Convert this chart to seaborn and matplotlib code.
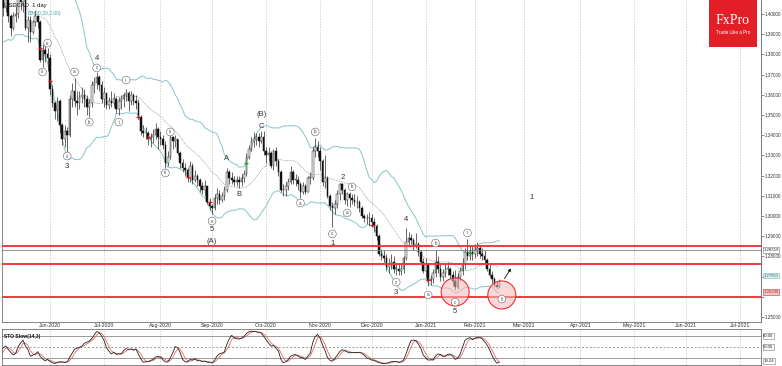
import numpy as np
import pandas as pd
import seaborn as sns
import matplotlib.pyplot as plt
from matplotlib.patches import Ellipse, Rectangle
from matplotlib.ticker import MultipleLocator

sns.set_theme(style="white")
plt.rcParams['font.family'] = ['Liberation Sans', 'DejaVu Sans']

# daily candles, one week per line (April only warms up the bands)
first_open = 1.4150
closes = [
    1.4110, 1.4000, 1.3990, 1.3940, 1.3960,
    1.3930, 1.3890, 1.4080, 1.4090, 1.4030,
    1.4150, 1.4180, 1.4130, 1.4100, 1.4120,
    1.4030, 1.3990, 1.3910, 1.3930, 1.4040,
    1.4100, 1.4030, 1.4090, 1.3990, 1.3930,
    1.3990, 1.4000, 1.4080, 1.4060, 1.4080,
    1.3930, 1.3970, 1.3910, 1.3960, 1.3990,
    1.3960, 1.3770, 1.3820, 1.3800, 1.3780,
    1.3630, 1.3560, 1.3520, 1.3570, 1.3450,
    1.3380, 1.3420, 1.3400, 1.3580, 1.3620,
    1.3570, 1.3560, 1.3590, 1.3600, 1.3580,
    1.3540, 1.3560, 1.3650, 1.3660, 1.3690,
    1.3650, 1.3580, 1.3610, 1.3550, 1.3570,
    1.3560, 1.3580, 1.3530, 1.3570, 1.3580,
    1.3600, 1.3610, 1.3570, 1.3600, 1.3570,
    1.3560, 1.3490, 1.3420, 1.3410, 1.3410,
    1.3380, 1.3390, 1.3400, 1.3430, 1.3390,
    1.3380, 1.3350, 1.3260, 1.3290, 1.3390,
    1.3370, 1.3380, 1.3310, 1.3260, 1.3240,
    1.3230, 1.3190, 1.3250, 1.3180, 1.3200,
    1.3180, 1.3150, 1.3130, 1.3150, 1.3070,
    1.3050, 1.3040, 1.3090, 1.3110, 1.3080,
    1.3100, 1.3130, 1.3220, 1.3190, 1.3180,
    1.3170, 1.3180, 1.3170, 1.3190, 1.3210,
    1.3290, 1.3330, 1.3370, 1.3380, 1.3390,
    1.3370, 1.3390, 1.3320, 1.3300, 1.3310,
    1.3250, 1.3320, 1.3270, 1.3220, 1.3130,
    1.3130, 1.3150, 1.3170, 1.3220, 1.3180,
    1.3180, 1.3160, 1.3120, 1.3150, 1.3120,
    1.3190, 1.3190, 1.3320, 1.3340, 1.3320,
    1.3270, 1.3170, 1.3190, 1.3100, 1.3050,
    1.3040, 1.3060, 1.3110, 1.3160, 1.3130,
    1.3080, 1.3110, 1.3090, 1.3080, 1.3070,
    1.3070, 1.3040, 1.3000, 1.2990, 1.2990,
    1.2990, 1.2970, 1.2950, 1.2900, 1.2810,
    1.2800, 1.2790, 1.2750, 1.2760, 1.2770,
    1.2740, 1.2740, 1.2730, 1.2740, 1.2790,
    1.2870, 1.2890, 1.2880, 1.2850,
    1.2860, 1.2820, 1.2770, 1.2730,
    1.2760, 1.2680, 1.2690, 1.2720, 1.2770,
    1.2740, 1.2700, 1.2720, 1.2740, 1.2740,
    1.2710, 1.2680, 1.2650, 1.2700, 1.2730,
    1.2760, 1.2820, 1.2800, 1.2820, 1.2810,
    1.2830, 1.2840, 1.2810, 1.2800, 1.2780,
    1.2740, 1.2710, 1.2690, 1.2660, 1.2650,
    1.2680,
]
highs = [
    1.4200, 1.4130, 1.4060, 1.4020, 1.3990,
    1.3990, 1.3950, 1.4100, 1.4150, 1.4110,
    1.4180, 1.4265, 1.4200, 1.4160, 1.4170,
    1.4130, 1.4060, 1.4000, 1.3980, 1.4070,
    1.4170, 1.4110, 1.4130, 1.4100, 1.4000,
    1.4010, 1.4040, 1.4110, 1.4150, 1.4120,
    1.4090, 1.3990, 1.3990, 1.3970, 1.4020,
    1.3990, 1.3970, 1.3850, 1.3840, 1.3830,
    1.3800, 1.3650, 1.3570, 1.3590, 1.3580,
    1.3460, 1.3450, 1.3440, 1.3600, 1.3660,
    1.3685, 1.3620, 1.3620, 1.3640, 1.3630,
    1.3600, 1.3580, 1.3670, 1.3690, 1.3715,
    1.3700, 1.3670, 1.3640, 1.3610, 1.3590,
    1.3620, 1.3610, 1.3590, 1.3590, 1.3600,
    1.3610, 1.3630, 1.3620, 1.3620, 1.3610,
    1.3600, 1.3580, 1.3500, 1.3450, 1.3440,
    1.3420, 1.3410, 1.3430, 1.3460, 1.3440,
    1.3420, 1.3400, 1.3370, 1.3320, 1.3400,
    1.3395, 1.3400, 1.3380, 1.3320, 1.3280,
    1.3260, 1.3240, 1.3270, 1.3260, 1.3230,
    1.3210, 1.3190, 1.3170, 1.3180, 1.3150,
    1.3090, 1.3060, 1.3110, 1.3140, 1.3130,
    1.3120, 1.3150, 1.3238, 1.3230, 1.3220,
    1.3200, 1.3200, 1.3200, 1.3210, 1.3230,
    1.3310, 1.3350, 1.3390, 1.3416, 1.3410,
    1.3410, 1.3420, 1.3420, 1.3340, 1.3340,
    1.3320, 1.3330, 1.3340, 1.3280, 1.3230,
    1.3160, 1.3170, 1.3190, 1.3250, 1.3230,
    1.3210, 1.3200, 1.3170, 1.3170, 1.3160,
    1.3200, 1.3220, 1.3340, 1.3386, 1.3370,
    1.3340, 1.3280, 1.3300, 1.3200, 1.3110,
    1.3070, 1.3080, 1.3130, 1.3165, 1.3165,
    1.3140, 1.3120, 1.3120, 1.3110, 1.3110,
    1.3100, 1.3080, 1.3050, 1.3010, 1.3010,
    1.3020, 1.3010, 1.2990, 1.2960, 1.2910,
    1.2830, 1.2830, 1.2810, 1.2790, 1.2810,
    1.2800, 1.2760, 1.2760, 1.2760, 1.2800,
    1.2940, 1.2920, 1.2910, 1.2890,
    1.2916, 1.2870, 1.2832, 1.2790,
    1.2790, 1.2767, 1.2710, 1.2740, 1.2830,
    1.2800, 1.2760, 1.2740, 1.2760, 1.2770,
    1.2750, 1.2730, 1.2733, 1.2720, 1.2750,
    1.2790, 1.2840, 1.2886, 1.2850, 1.2850,
    1.2860, 1.2870, 1.2850, 1.2840, 1.2830,
    1.2790, 1.2760, 1.2730, 1.2700, 1.2680,
    1.2690,
]
lows = [
    1.4060, 1.3960, 1.3920, 1.3900, 1.3920,
    1.3880, 1.3860, 1.3880, 1.4030, 1.4000,
    1.4020, 1.4110, 1.4090, 1.4050, 1.4070,
    1.4010, 1.3960, 1.3860, 1.3870, 1.3920,
    1.4020, 1.3990, 1.4010, 1.3960, 1.3890,
    1.3920, 1.3960, 1.3980, 1.4020, 1.4010,
    1.3920, 1.3860, 1.3860, 1.3900, 1.3940,
    1.3930, 1.3760, 1.3740, 1.3760, 1.3720,
    1.3600, 1.3540, 1.3480, 1.3470, 1.3410,
    1.3350, 1.3340, 1.3315, 1.3390, 1.3540,
    1.3540, 1.3500, 1.3530, 1.3560, 1.3540,
    1.3500, 1.3490, 1.3540, 1.3610, 1.3630,
    1.3620, 1.3560, 1.3540, 1.3530, 1.3530,
    1.3540, 1.3540, 1.3510, 1.3500, 1.3530,
    1.3540, 1.3570, 1.3520, 1.3550, 1.3550,
    1.3530, 1.3480, 1.3400, 1.3390, 1.3380,
    1.3350, 1.3340, 1.3360, 1.3380, 1.3330,
    1.3350, 1.3330, 1.3240, 1.3250, 1.3280,
    1.3330, 1.3340, 1.3300, 1.3240, 1.3220,
    1.3200, 1.3170, 1.3170, 1.3160, 1.3170,
    1.3150, 1.3120, 1.3110, 1.3100, 1.3060,
    1.3030, 1.3010, 1.3030, 1.3060, 1.3060,
    1.3070, 1.3080, 1.3120, 1.3160, 1.3160,
    1.3150, 1.3150, 1.3140, 1.3150, 1.3170,
    1.3200, 1.3280, 1.3320, 1.3340, 1.3350,
    1.3340, 1.3360, 1.3300, 1.3260, 1.3270,
    1.3240, 1.3230, 1.3250, 1.3200, 1.3120,
    1.3100, 1.3100, 1.3130, 1.3160, 1.3160,
    1.3150, 1.3130, 1.3090, 1.3110, 1.3110,
    1.3120, 1.3160, 1.3180, 1.3290, 1.3290,
    1.3230, 1.3150, 1.3140, 1.3090, 1.3030,
    1.2946, 1.3010, 1.3040, 1.3080, 1.3110,
    1.3060, 1.3050, 1.3045, 1.3060, 1.3050,
    1.3040, 1.3020, 1.2990, 1.2970, 1.2960,
    1.2950, 1.2950, 1.2920, 1.2880, 1.2800,
    1.2780, 1.2770, 1.2730, 1.2720, 1.2740,
    1.2720, 1.2708, 1.2710, 1.2710, 1.2720,
    1.2780, 1.2850, 1.2860, 1.2830,
    1.2840, 1.2800, 1.2760, 1.2720,
    1.2700, 1.2655, 1.2660, 1.2670, 1.2700,
    1.2720, 1.2680, 1.2680, 1.2700, 1.2710,
    1.2690, 1.2660, 1.2634, 1.2640, 1.2680,
    1.2710, 1.2740, 1.2780, 1.2780, 1.2780,
    1.2790, 1.2800, 1.2790, 1.2780, 1.2760,
    1.2730, 1.2700, 1.2670, 1.2650, 1.2639,
    1.2644,
]

red_levels = [1.2851, 1.2762, 1.2601]
gray_level = 1.2832

wave_labels = [
    ("3", "2020-06-10", 1.3243), ("4", "2020-06-26", 1.3782),
    ("5", "2020-09-01", 1.2931), ("(A)", "2020-09-01", 1.2876),
    ("A", "2020-09-09", 1.3287), ("B", "2020-09-16", 1.3104),
    ("(B)", "2020-09-29", 1.3500), ("C", "2020-09-29", 1.3441),
    ("1", "2020-11-09", 1.2866), ("2", "2020-11-13", 1.3193),
    ("3", "2020-12-15", 1.2619), ("4", "2020-12-21", 1.2985),
    ("5", "2021-01-20", 1.2525), ("1", "2021-03-04", 1.3094),
]
circle_labels = [
    ("iii", "2020-05-27", 1.3713), ("iv", "2020-05-29", 1.3856),
    ("v", "2020-06-10", 1.3297), ("a", "2020-06-15", 1.3713),
    ("b", "2020-06-23", 1.3465), ("c", "2020-06-26", 1.3733),
    ("i", "2020-07-09", 1.3465), ("ii", "2020-07-14", 1.3673),
    ("iii", "2020-08-05", 1.3213), ("iv", "2020-08-07", 1.3416),
    ("v", "2020-09-01", 1.2975), ("a", "2020-10-21", 1.3064),
    ("b", "2020-10-29", 1.3416), ("c", "2020-11-09", 1.2911),
    ("a", "2020-11-17", 1.3015), ("b", "2020-11-19", 1.3144),
    ("c", "2020-12-15", 1.2673), ("a", "2021-01-05", 1.2609),
    ("b", "2021-01-08", 1.2866), ("c", "2021-01-20", 1.2574),
    ("i", "2021-01-27", 1.2916), ("iii", "2021-02-16", 1.2589),
]
red_marks = [("2020-05-26", 1.3832), ("2020-06-01", 1.3668), ("2020-07-21", 1.3490),
             ("2020-07-27", 1.3390), ("2020-08-18", 1.3193), ("2020-08-31", 1.3070),
             ("2020-12-01", 1.2955), ("2021-01-05", 1.2683)]
green_marks = [("2020-09-21", 1.3262), ("2021-01-28", 1.2817)]
focus_circles = [("2021-01-20", 1.2624), ("2021-02-16", 1.2609)]

# trading calendar (no bars on 25 Dec and 1 Jan)
cal = pd.bdate_range("2020-04-06", "2021-07-30").drop(pd.to_datetime(["2020-12-25", "2021-01-01"]))
n = min(len(closes), len(highs), len(lows))
df = pd.DataFrame({"close": closes[:n], "high": highs[:n], "low": lows[:n]})
df["open"] = [first_open] + closes[:n - 1]
df["high"] = df[["high", "open", "close"]].max(axis=1)
df["low"] = df[["low", "open", "close"]].min(axis=1)
df["x"] = np.arange(n)


def pos(d):
    return cal.searchsorted(pd.Timestamp(d))


# Bollinger bands (20, 2) and slow stochastic (14, 3, 3)
mid = df.close.rolling(20).mean()
sd = df.close.rolling(20).std(ddof=0)
df["bb_mid"], df["bb_up"], df["bb_lo"] = mid, mid + 2 * sd, mid - 2 * sd
ll = df.low.rolling(14).min()
hh = df.high.rolling(14).max()
df["k"] = (df.close - ll).rolling(3).sum() / (hh - ll).rolling(3).sum() * 100
df["d"] = df.k.rolling(3).mean()

W, H = 782, 366
fig = plt.figure(figsize=(W / 100, H / 100), dpi=100)


def rect(x0, y0, x1, y1):
    return [x0 / W, 1 - y1 / H, (x1 - x0) / W, (y1 - y0) / H]


ax = fig.add_axes(rect(2, 0, 761, 322))
ax2 = fig.add_axes(rect(2, 328.7, 761, 365.3))

j0 = pos("2020-06-01")
ppb = 690 / (pos("2021-07-01") - j0)
xlim = (j0 - 48 / ppb, j0 + 711 / ppb)
ylim = (1.40 - 308 / 2020, 1.40 + 14 / 2020)
ypp = (ylim[1] - ylim[0]) / 322

months = pd.date_range("2020-06-01", "2021-07-01", freq="MS")
month_pos = [pos(m) for m in months]
month_lab = [m.strftime("%b-%Y") for m in months]

teal = "#86c5c8"
bb = df.dropna(subset=["bb_mid"])
sns.lineplot(data=bb, x="x", y="bb_up", ax=ax, color=teal, lw=0.7, zorder=2)
sns.lineplot(data=bb, x="x", y="bb_lo", ax=ax, color=teal, lw=0.7, zorder=2)
sns.lineplot(data=bb, x="x", y="bb_mid", ax=ax, color="#9a9a9a", lw=0.5, ls=(0, (1.5, 1)), zorder=2)

# candles
up = df.close >= df.open
ax.vlines(df.x, df.low, df.high, color="#2a2a2a", lw=0.5, zorder=3)
body = (df.close - df.open).abs().clip(lower=0.0001)
bottom = df[["open", "close"]].min(axis=1)
ax.bar(df.x[up], body[up], bottom=bottom[up], width=0.66, color="#eeeeee",
       edgecolor="#2a2a2a", lw=0.35, zorder=4)
ax.bar(df.x[~up], body[~up], bottom=bottom[~up], width=0.66, color="#111111",
       edgecolor="#111111", lw=0.35, zorder=4)

for d, p in red_marks:
    ax.plot(pos(d), p, marker="+", color="#d8141c", ms=3.5, mew=0.8, zorder=5)
for d, p in green_marks:
    ax.plot(pos(d), p, marker="+", color="#1fa02a", ms=3.5, mew=0.8, zorder=5)

# horizontal levels
for lv in red_levels:
    ax.axhline(lv, color="#f0393e", lw=1.4, zorder=6)
ax.axhline(gray_level, color="#808080", lw=0.6, zorder=5)

for d, p in focus_circles:
    ax.add_patch(Ellipse((pos(d), p), 28 / ppb, 28 * ypp, fc="#f7b9bb", alpha=0.55,
                         ec="none", zorder=6))
    ax.add_patch(Ellipse((pos(d), p), 28 / ppb, 28 * ypp, fc="none", ec="#ec2f36",
                         lw=0.8, zorder=7))

ax.annotate("", xy=(pos("2021-02-22") + 0.3, 1.2752), xytext=(pos("2021-02-16") + 0.5, 1.2678),
            arrowprops=dict(arrowstyle="-|>", color="#111111", lw=0.6, mutation_scale=4),
            zorder=8)

for t, d, p in wave_labels:
    ax.text(pos(d), p, t, ha="center", va="center", fontsize=5.5, color="#333333", zorder=8)
for t, d, p in circle_labels:
    ax.text(pos(d), p, t, ha="center", va="center", fontsize=3.3, color="#444444", zorder=8,
            bbox=dict(boxstyle="circle,pad=0.3", fc="white", ec="#666666", lw=0.4))

ax.set_xlim(*xlim)
ax.set_ylim(*ylim)
ax.set_xlabel("")
ax.set_ylabel("")
ax.set_xticks(month_pos)
ax.set_xticklabels(month_lab)
ax.tick_params(axis="x", length=0, pad=0.6, labelsize=3.8, colors="#333333")
ax.grid(True, axis="x", color="#bdbdbd", ls=(0, (2, 2)), lw=0.5)
ax.yaxis.tick_right()
yt = np.round(np.arange(1.25, 1.4001, 0.01), 2)
ax.set_yticks(yt)
ax.set_yticklabels([f"{v:.5f}" if v not in (1.26, 1.27) else "" for v in yt])
ax.yaxis.set_minor_locator(MultipleLocator(0.001))
ax.tick_params(axis="y", which="major", length=2, width=0.4, pad=0.6, labelsize=3.3,
               colors="#333333", right=True)
ax.tick_params(axis="y", which="minor", length=1, width=0.3, color="#333333", right=True)
for s in ax.spines.values():
    s.set_color("#555555")
    s.set_linewidth(0.5)
ax.spines["top"].set_visible(False)

tr = ax.get_yaxis_transform()
box_fs = 3.1
ax.text(1.003, gray_level, "1.28319", transform=tr, fontsize=box_fs, va="center", ha="left",
        color="#222222", clip_on=False, zorder=9,
        bbox=dict(boxstyle="square,pad=0.15", fc="white", ec="#777777", lw=0.4))
ax.text(1.003, 1.2705, "1.27051", transform=tr, fontsize=box_fs, va="center", ha="left",
        color="#336666", clip_on=False, zorder=9,
        bbox=dict(boxstyle="square,pad=0.15", fc="#e2f2f2", ec=teal, lw=0.5))
ax.text(1.003, 1.2624, "1.26240", transform=tr, fontsize=box_fs, va="center", ha="left",
        color="#993333", clip_on=False, zorder=9,
        bbox=dict(boxstyle="square,pad=0.15", fc="#f6c4c4", ec="#e05050", lw=0.5))

# stochastic panel
sto = df.dropna(subset=["d"])
sns.lineplot(data=sto, x="x", y="d", ax=ax2, color="#e06a6a", lw=0.6)
sns.lineplot(data=sto, x="x", y="k", ax=ax2, color="#222222", lw=0.6)
for lv, st in [(80, "-"), (50, (0, (2, 2))), (20, "-")]:
    ax2.axhline(lv, color="#9a9a9a", lw=0.7, ls=st, zorder=1)
ax2.set_xlim(*xlim)
ax2.set_ylim(0, 100)
ax2.set_xlabel("")
ax2.set_ylabel("")
ax2.set_xticks(month_pos)
ax2.set_xticklabels([])
ax2.set_yticks([])
ax2.tick_params(axis="x", length=0)
ax2.grid(True, axis="x", color="#bdbdbd", ls=(0, (2, 2)), lw=0.5)
for s in ax2.spines.values():
    s.set_color("#555555")
    s.set_linewidth(0.5)
tr2 = ax2.get_yaxis_transform()
for v, t in [(80, "80.00"), (50, "50.00"), (12, "19.24")]:
    ax2.text(1.003, v, t, transform=tr2, fontsize=box_fs, va="center", ha="left",
             color="#222222", clip_on=False,
             bbox=dict(boxstyle="square,pad=0.15", fc="white", ec="#777777", lw=0.4))
ax2.text(0.003, 0.8, "STO Slow(14,3)", transform=ax2.transAxes, fontsize=3.6,
         fontweight="bold", color="#111111", va="center")

# header texts and logo
fig.text(4 / W, 1 - 5 / H, "USDCAD  1 day", fontsize=4.2, color="#111111", va="center")
fig.text(28 / W, 1 - 13 / H, "BB(20,20,2.00)", fontsize=3.6, color="#4aa0a4", va="center")
fig.patches.append(Rectangle((709 / W, 1 - 47 / H), 48 / W, 47 / H, transform=fig.transFigure,
                             fc="#e31e26", ec="none", zorder=10))
fig.text(733 / W, 1 - 20 / H, "FxPro", fontsize=10, color="white", ha="center", va="center",
         family="Liberation Serif", zorder=11)
fig.text(733 / W, 1 - 33 / H, "Trade Like a Pro", fontsize=3.3, color="white", ha="center",
         va="center", zorder=11)

fig.savefig("out.png", dpi=100)
